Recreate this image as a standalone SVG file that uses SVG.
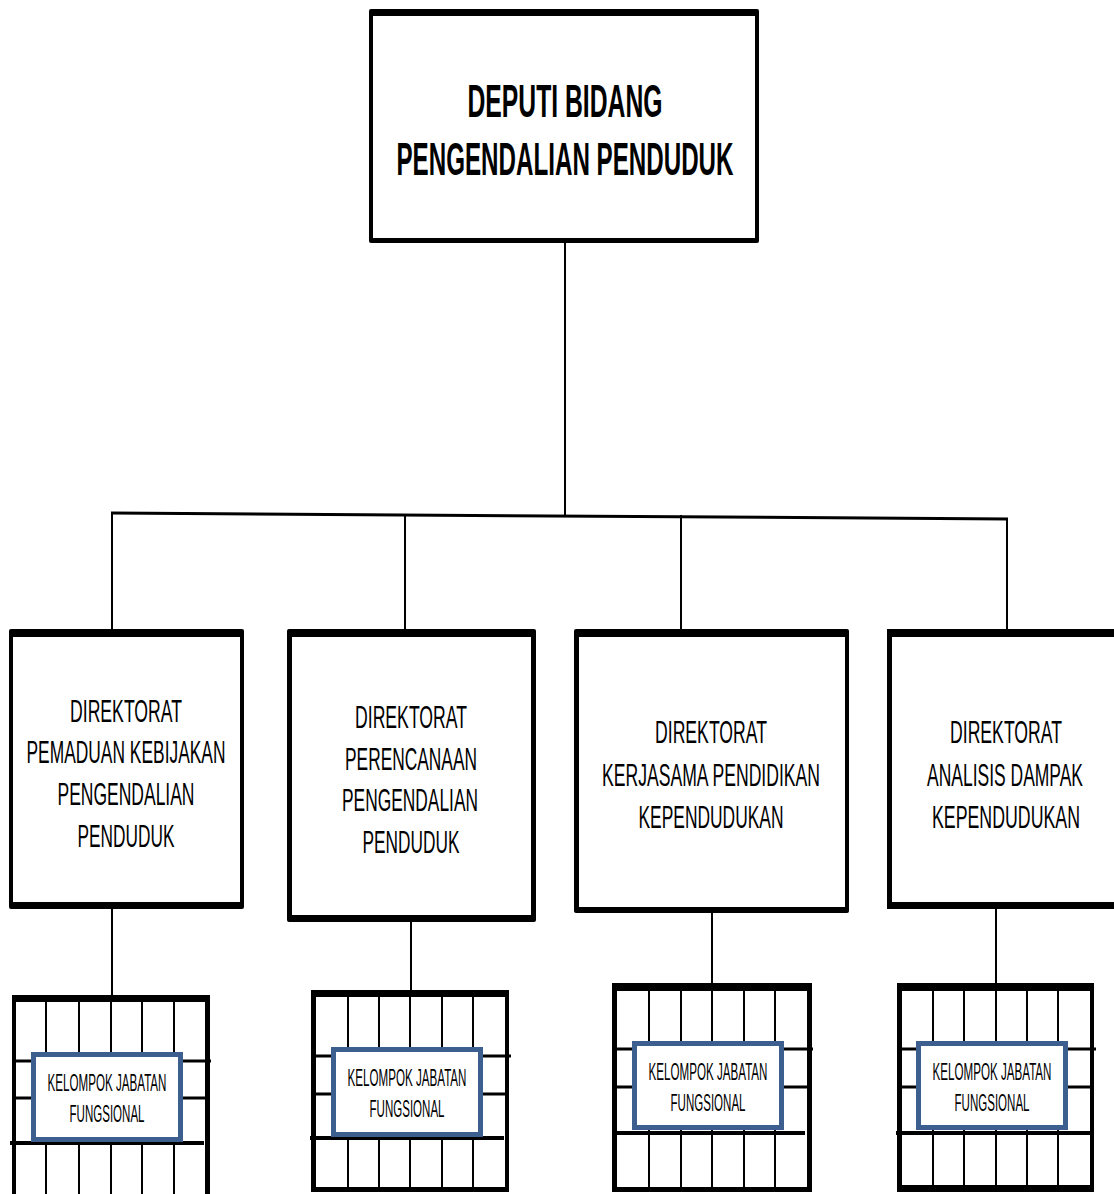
<svg xmlns="http://www.w3.org/2000/svg" width="1114" height="1194" viewBox="0 0 1114 1194">
<style>
.outer{fill:#000}
.inner{fill:#fff}
.conn{stroke:#000;stroke-width:2;fill:none}
.bus{stroke:#000;stroke-width:3;fill:none}
.gv{stroke:#000;stroke-width:2}
.gh{stroke:#000;stroke-width:3}
.ghb{stroke:#000;stroke-width:4}
.kjf{fill:#fff;stroke:#3C5F8F;stroke-width:5}
.title{font-family:"Liberation Sans Narrow","Liberation Sans",Arial,sans-serif;font-weight:bold;font-size:46px;text-anchor:middle;fill:#000}
.dir{font-family:"Liberation Sans Narrow","Liberation Sans",Arial,sans-serif;font-size:32px;text-anchor:middle;fill:#000}
.kt{font-family:"Liberation Sans Narrow","Liberation Sans",Arial,sans-serif;font-size:23px;text-anchor:middle;fill:#000}
</style>
<rect width="1114" height="1194" fill="#fff"/>

<g id="connectors">
<line class="conn" x1="565" y1="241" x2="565" y2="516"/>
<line class="bus" x1="111" y1="513" x2="1008" y2="519"/>
<line class="conn" x1="112" y1="513" x2="112" y2="630"/>
<line class="conn" x1="405" y1="516" x2="405" y2="630"/>
<line class="conn" x1="681" y1="515" x2="681" y2="630"/>
<line class="conn" x1="1007" y1="518" x2="1007" y2="630"/>
<line class="conn" x1="112" y1="906" x2="112" y2="996"/>
<line class="conn" x1="411" y1="920" x2="411" y2="991"/>
<line class="conn" x1="712" y1="911" x2="712" y2="984"/>
<line class="conn" x1="996" y1="907" x2="996" y2="984"/>
</g>

<g id="deputi">
<rect class="outer" x="369" y="9" width="390" height="234" rx="2"/>
<rect class="inner" x="373" y="16" width="382" height="222"/>
<text class="title" x="565" y="117" textLength="195" lengthAdjust="spacingAndGlyphs">DEPUTI  BIDANG</text>
<text class="title" x="565" y="175" textLength="337" lengthAdjust="spacingAndGlyphs">PENGENDALIAN PENDUDUK</text>
</g>

<g id="dir1">
<rect class="outer" x="9" y="629" width="235" height="280" rx="2"/>
<rect class="inner" x="13" y="637" width="227" height="265"/>
<text class="dir" x="126" y="722" textLength="112" lengthAdjust="spacingAndGlyphs">DIREKTORAT</text>
<text class="dir" x="126" y="763" textLength="199" lengthAdjust="spacingAndGlyphs">PEMADUAN KEBIJAKAN</text>
<text class="dir" x="126" y="805" textLength="137" lengthAdjust="spacingAndGlyphs">PENGENDALIAN</text>
<text class="dir" x="126" y="847" textLength="97" lengthAdjust="spacingAndGlyphs">PENDUDUK</text>
</g>

<g id="dir2">
<rect class="outer" x="287" y="629" width="249" height="293" rx="2"/>
<rect class="inner" x="292" y="637" width="239" height="278"/>
<text class="dir" x="411" y="728" textLength="112" lengthAdjust="spacingAndGlyphs">DIREKTORAT</text>
<text class="dir" x="411" y="770" textLength="132" lengthAdjust="spacingAndGlyphs">PERENCANAAN</text>
<text class="dir" x="410" y="811" textLength="136" lengthAdjust="spacingAndGlyphs">PENGENDALIAN</text>
<text class="dir" x="411" y="853" textLength="97" lengthAdjust="spacingAndGlyphs">PENDUDUK</text>
</g>

<g id="dir3">
<rect class="outer" x="574" y="629" width="275" height="284" rx="2"/>
<rect class="inner" x="579" y="637" width="266" height="270"/>
<text class="dir" x="711" y="743" textLength="112" lengthAdjust="spacingAndGlyphs">DIREKTORAT</text>
<text class="dir" x="711" y="786" textLength="218" lengthAdjust="spacingAndGlyphs">KERJASAMA PENDIDIKAN</text>
<text class="dir" x="711" y="828" textLength="145" lengthAdjust="spacingAndGlyphs">KEPENDUDUKAN</text>
</g>

<g id="dir4">
<rect class="outer" x="887" y="629" width="227" height="280"/>
<rect class="inner" x="892" y="637" width="222" height="265"/>
<text class="dir" x="1006" y="743" textLength="112" lengthAdjust="spacingAndGlyphs">DIREKTORAT</text>
<text class="dir" x="1005" y="786" textLength="156" lengthAdjust="spacingAndGlyphs">ANALISIS DAMPAK</text>
<text class="dir" x="1006" y="828" textLength="148" lengthAdjust="spacingAndGlyphs">KEPENDUDUKAN</text>
</g>

<g id="kjf1">
<rect class="outer" x="12" y="995" width="198" height="210"/>
<rect class="inner" x="16" y="1002" width="189" height="200"/>
<line class="gv" x1="46" y1="1002" x2="46" y2="1194"/>
<line class="gv" x1="79" y1="1002" x2="79" y2="1194"/>
<line class="gv" x1="111" y1="1002" x2="111" y2="1194"/>
<line class="gv" x1="142" y1="1002" x2="142" y2="1194"/>
<line class="gv" x1="174" y1="1002" x2="174" y2="1194"/>
<line class="gh" x1="16" y1="1061" x2="211" y2="1061"/>
<line class="gh" x1="16" y1="1098" x2="205" y2="1098"/>
<line class="ghb" x1="10" y1="1143" x2="204" y2="1143"/>
<rect class="kjf" x="33.5" y="1054.5" width="147" height="85"/>
<text class="kt" x="107" y="1091" textLength="119" lengthAdjust="spacingAndGlyphs">KELOMPOK JABATAN</text>
<text class="kt" x="107" y="1122" textLength="75" lengthAdjust="spacingAndGlyphs">FUNGSIONAL</text>
</g>

<g id="kjf2">
<rect class="outer" x="311" y="990" width="198" height="202"/>
<rect class="inner" x="316" y="997" width="189" height="190"/>
<line class="gv" x1="348" y1="997" x2="348" y2="1187"/>
<line class="gv" x1="379" y1="997" x2="379" y2="1187"/>
<line class="gv" x1="410" y1="997" x2="410" y2="1187"/>
<line class="gv" x1="442" y1="997" x2="442" y2="1187"/>
<line class="gv" x1="473" y1="997" x2="473" y2="1187"/>
<line class="gh" x1="316" y1="1056" x2="511" y2="1056"/>
<line class="gh" x1="316" y1="1094" x2="505" y2="1094"/>
<line class="ghb" x1="310" y1="1138" x2="504" y2="1138"/>
<rect class="kjf" x="333.5" y="1049.5" width="147" height="85"/>
<text class="kt" x="407" y="1086" textLength="119" lengthAdjust="spacingAndGlyphs">KELOMPOK JABATAN</text>
<text class="kt" x="407" y="1117" textLength="75" lengthAdjust="spacingAndGlyphs">FUNGSIONAL</text>
</g>

<g id="kjf3">
<rect class="outer" x="612" y="983" width="200" height="209"/>
<rect class="inner" x="617" y="991" width="190" height="196"/>
<line class="gv" x1="649" y1="991" x2="649" y2="1187"/>
<line class="gv" x1="681" y1="991" x2="681" y2="1187"/>
<line class="gv" x1="712" y1="991" x2="712" y2="1187"/>
<line class="gv" x1="744" y1="991" x2="744" y2="1187"/>
<line class="gv" x1="775" y1="991" x2="775" y2="1187"/>
<line class="gh" x1="617" y1="1049" x2="813" y2="1049"/>
<line class="gh" x1="617" y1="1087" x2="807" y2="1087"/>
<line class="ghb" x1="612" y1="1133" x2="805" y2="1133"/>
<rect class="kjf" x="634.5" y="1043.5" width="147" height="84"/>
<text class="kt" x="708" y="1080" textLength="119" lengthAdjust="spacingAndGlyphs">KELOMPOK JABATAN</text>
<text class="kt" x="708" y="1111" textLength="75" lengthAdjust="spacingAndGlyphs">FUNGSIONAL</text>
</g>

<g id="kjf4">
<rect class="outer" x="897" y="983" width="197" height="209"/>
<rect class="inner" x="902" y="991" width="188" height="194"/>
<line class="gv" x1="933" y1="991" x2="933" y2="1185"/>
<line class="gv" x1="964" y1="991" x2="964" y2="1185"/>
<line class="gv" x1="996" y1="991" x2="996" y2="1185"/>
<line class="gv" x1="1027" y1="991" x2="1027" y2="1185"/>
<line class="gv" x1="1058" y1="991" x2="1058" y2="1185"/>
<line class="gh" x1="902" y1="1049" x2="1096" y2="1049"/>
<line class="gh" x1="902" y1="1087" x2="1090" y2="1087"/>
<line class="ghb" x1="896" y1="1133" x2="1090" y2="1133"/>
<rect class="kjf" x="918.5" y="1043.5" width="147" height="84"/>
<text class="kt" x="992" y="1080" textLength="119" lengthAdjust="spacingAndGlyphs">KELOMPOK JABATAN</text>
<text class="kt" x="992" y="1111" textLength="75" lengthAdjust="spacingAndGlyphs">FUNGSIONAL</text>
</g>
</svg>
